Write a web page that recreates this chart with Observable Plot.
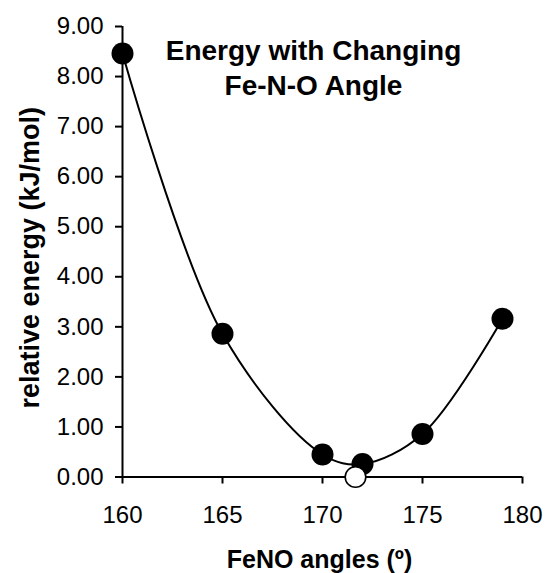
<!DOCTYPE html>
<html>
<head>
<meta charset="utf-8">
<script src="https://cdn.jsdelivr.net/npm/d3@7"></script>
<script src="https://cdn.jsdelivr.net/npm/@observablehq/plot@0.6"></script>
<style>
  html, body { margin: 0; padding: 0; background: #fff; }
</style>
</head>
<body>
<div id="chart"></div>
<script>
// Data
const angles = [160, 165, 170, 172, 175, 179];
const energies = [8.46, 2.86, 0.45, 0.26, 0.86, 3.16];
const minAngles = [171.65];
const minEnergies = [0.0];
const xTicks = [160, 165, 170, 175, 180];
const yTicks = [0, 1, 2, 3, 4, 5, 6, 7, 8, 9];
const titleText = "Energy with Changing\nFe-N-O Angle";
const xLabel = "FeNO angles (º)";
const yLabel = "relative energy (kJ/mol)";

const points = angles.map((a, i) => ({angle: a, energy: energies[i]}));
const minPoints = minAngles.map((a, i) => ({angle: a, energy: minEnergies[i]}));

const chart = Plot.plot({
  width: 545,
  height: 573,
  marginTop: 26,
  marginBottom: 96.5,
  marginLeft: 122,
  marginRight: 23,
  style: {fontFamily: "'Liberation Sans', Arial, sans-serif", fontSize: "24px", color: "black", background: "white"},
  x: {domain: [160, 180]},
  y: {domain: [0, 9]},
  marks: [
    Plot.axisX({ticks: xTicks, tickSize: 7, tickPadding: 21.5, strokeWidth: 2, fontSize: 24, label: null, tickFormat: d => String(d)}),
    Plot.axisY({ticks: yTicks, tickSize: 7, tickPadding: 12, strokeWidth: 2, fontSize: 24, label: null, tickFormat: d => d.toFixed(2)}),
    Plot.ruleX([160], {stroke: "black", strokeWidth: 2}),
    Plot.ruleY([0], {stroke: "black", strokeWidth: 2}),
    Plot.line(points, {x: "angle", y: "energy", curve: "catmull-rom", stroke: "black", strokeWidth: 2}),
    Plot.dot(points, {x: "angle", y: "energy", r: 11, fill: "black", stroke: "none"}),
    Plot.dot(minPoints, {x: "angle", y: "energy", r: 10.3, fill: "white", stroke: "black", strokeWidth: 1.6}),
    Plot.text([titleText], {frameAnchor: "top", lineAnchor: "top", textAnchor: "middle", dx: -9, dy: 9, lineHeight: 1.25, fontSize: 28, fontWeight: "bold", fill: "black"}),
    Plot.text([xLabel], {frameAnchor: "bottom", lineAnchor: "bottom", textAnchor: "middle", dx: -3, dy: 91, fontSize: 25, fontWeight: "bold", fill: "black"}),
    Plot.text([yLabel], {frameAnchor: "left", lineAnchor: "bottom", textAnchor: "middle", rotate: -90, dx: -84, dy: 6, fontSize: 27, fontWeight: "bold", fill: "black"})
  ]
});
document.getElementById("chart").appendChild(chart);
</script>
</body>
</html>
